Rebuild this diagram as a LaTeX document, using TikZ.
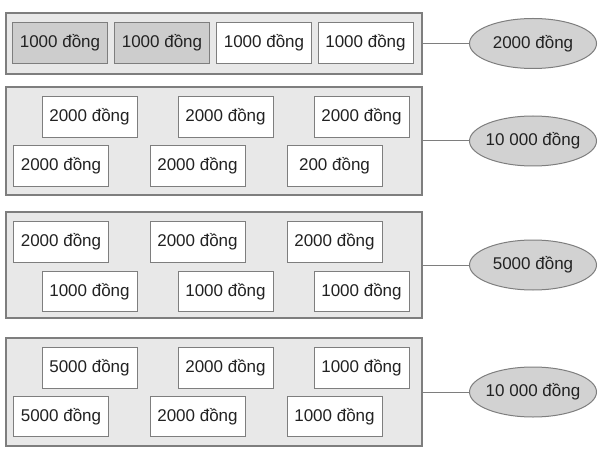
\documentclass[tikz,border=0pt]{standalone}
\usepackage{fontspec}
\setmainfont{Liberation Sans}
\definecolor{panelfill}{HTML}{E8E8E8}
\definecolor{edge}{HTML}{7E7E7E}
\definecolor{darkbox}{HTML}{CDCDCD}
\definecolor{ellfill}{HTML}{D2D2D2}
\definecolor{txt}{HTML}{222222}
\newcommand\tottext[1]{\makebox[60pt][c]{#1}}
\tikzset{
  panel/.style={draw=edge, fill=panelfill, line width=1.1pt, rectangle, minimum width=416pt, inner sep=0pt},
  coin/.style={draw=edge, fill=white, line width=1pt, rectangle, minimum width=95pt, minimum height=40.5pt, inner sep=0pt, text=txt, font=\fontsize{17}{20}\selectfont},
  coindark/.style={coin, fill=darkbox},
  total/.style={draw=edge, fill=ellfill, line width=1pt, ellipse, minimum width=127pt, minimum height=50pt, inner sep=0pt, text=txt, font=\fontsize{17}{20}\selectfont},
  link/.style={draw=edge, line width=1pt}
}
\usetikzlibrary{shapes.geometric}
\begin{document}
\begin{tikzpicture}[x=1pt, y=-1pt]
\useasboundingbox (0,0) rectangle (612,454);
% panel 1
\node[panel, minimum height=61pt] (p1) at (214,43.5) {};
\node[coindark] (a1) at (60,43) {1000 đồng};
\node[coindark] (a2) at (162,43) {1000 đồng};
\node[coin] (a3) at (264,43) {1000 đồng};
\node[coin] (a4) at (365.5,43) {1000 đồng};
\node[total] (e1) at (533,43.5) {\tottext{2000 đồng}};
\draw[link] (p1.east) -- (e1.west);
% panel 2
\node[panel, minimum height=108pt] (p2) at (214,141) {};
\node[coin] (b1) at (89.5,117) {2000 đồng};
\node[coin] (b2) at (225.5,117) {2000 đồng};
\node[coin] (b3) at (361.5,117) {2000 đồng};
\node[coin] (b4) at (61,166) {2000 đồng};
\node[coin] (b5) at (197.5,166) {2000 đồng};
\node[coin] (b6) at (334.5,166) {200 đồng};
\node[total] (e2) at (533,141) {\tottext{10 000 đồng}};
\draw[link] (p2.east) -- (e2.west);
% panel 3
\node[panel, minimum height=106pt] (p3) at (214,265) {};
\node[coin] (c1) at (61,242) {2000 đồng};
\node[coin] (c2) at (197.5,242) {2000 đồng};
\node[coin] (c3) at (334.5,242) {2000 đồng};
\node[coin] (c4) at (89.5,291.5) {1000 đồng};
\node[coin] (c5) at (225.5,291.5) {1000 đồng};
\node[coin] (c6) at (361.5,291.5) {1000 đồng};
\node[total] (e3) at (533,265) {\tottext{5000 đồng}};
\draw[link] (p3.east) -- (e3.west);
% panel 4
\node[panel, minimum height=108pt] (p4) at (214,392) {};
\node[coin] (d1) at (89.5,368) {5000 đồng};
\node[coin] (d2) at (225.5,368) {2000 đồng};
\node[coin] (d3) at (361.5,368) {1000 đồng};
\node[coin] (d4) at (61,416.5) {5000 đồng};
\node[coin] (d5) at (197.5,416.5) {2000 đồng};
\node[coin] (d6) at (334.5,416.5) {1000 đồng};
\node[total] (e4) at (533,392) {\tottext{10 000 đồng}};
\draw[link] (p4.east) -- (e4.west);
\end{tikzpicture}
\end{document}
